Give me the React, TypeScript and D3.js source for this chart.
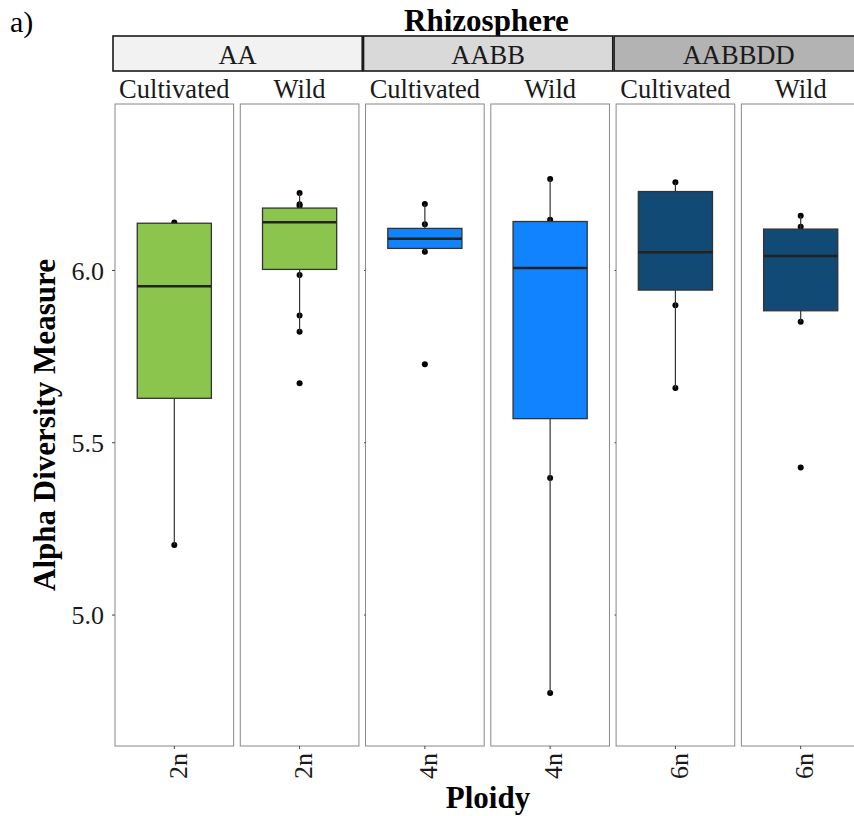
import React from "react";
import * as d3 from "d3";

const groups = ["AA", "AABB", "AABBDD"];
const groupFills = ["#f2f2f2", "#d9d9d9", "#b3b3b3"];
const panelGroups = ["AA", "AA", "AABB", "AABB", "AABBDD", "AABBDD"];
const panelTypes = ["Cultivated", "Wild", "Cultivated", "Wild", "Cultivated", "Wild"];
const ploidyLabels = ["2n", "2n", "4n", "4n", "6n", "6n"];
const boxColors = ["#8bc54e", "#8bc54e", "#1283ff", "#1283ff", "#124a76", "#124a76"];

const q1 = [5.629, 6.003, 6.064, 5.57, 5.943, 5.883];
const medians = [5.954, 6.14, 6.092, 6.007, 6.053, 6.042];
const q3 = [6.137, 6.181, 6.122, 6.142, 6.229, 6.12];
const whiskerLow = [5.203, 5.822, 6.054, 4.774, 5.659, 5.851];
const whiskerHigh = [6.139, 6.225, 6.193, 6.265, 6.256, 6.159];
const points: number[][] = [
  [6.139, 5.203],
  [6.225, 6.192, 6.187, 5.987, 5.869, 5.822, 5.673],
  [6.193, 6.134, 6.054, 5.728],
  [6.265, 6.147, 5.398, 4.774],
  [6.256, 5.899, 5.659],
  [6.159, 6.127, 5.851, 5.428],
];
const yTicks = [5.0, 5.5, 6.0];

const W = 854;
const H = 816;
const panelTop = 104;
const panelBottom = 746;

export default function App() {
  const idx = d3.range(6);
  const x = d3
    .scaleBand<number>()
    .domain(idx)
    .range([115, 860])
    .paddingInner(0.053)
    .paddingOuter(0);
  const bw = x.bandwidth();
  const y = d3.scaleLinear().domain([4.62, 6.483]).range([panelBottom, panelTop]);
  const serif = "'Liberation Serif', 'Times New Roman', serif";
  const boxW = bw * 0.625;

  const stripRanges = groups.map((g, gi) => {
    const l = x(gi * 2)!;
    const r = x(gi * 2 + 1)! + bw;
    return [l - 2, r + 3.3];
  });

  return (
    <svg
      width={W}
      height={H}
      style={{ position: "absolute", left: 0, top: 0, background: "#fff" }}
      fontFamily={serif}
    >
      <text x={10} y={32} fontSize={30} fill="#000">a)</text>
      <text x={486.5} y={30.5} fontSize={31} fontWeight="bold" textAnchor="middle" fill="#000">
        Rhizosphere
      </text>

      {groups.map((g, gi) => {
        const [l, r] = stripRanges[gi];
        return (
          <g key={g}>
            <rect x={l} y={36} width={r - l} height={35} fill={groupFills[gi]} stroke="#1a1a1a" strokeWidth={1.6} />
            <text x={(l + r) / 2} y={64} fontSize={26.5} textAnchor="middle" fill="#1a1a1a">
              {g}
            </text>
          </g>
        );
      })}

      {idx.map((i) => {
        const left = x(i)!;
        const cx = left + bw / 2;
        return (
          <g key={i}>
            <text x={cx} y={97.5} fontSize={26.5} textAnchor="middle" fill="#1a1a1a">
              {panelTypes[i]}
            </text>
            <rect x={left} y={panelTop} width={bw} height={panelBottom - panelTop} fill="#fff" stroke="#888" strokeWidth={1} />
            {points[i].map((p, k) => (
              <circle key={k} cx={cx} cy={y(p)} r={3} fill="#000" />
            ))}
            <line x1={cx} x2={cx} y1={y(whiskerHigh[i])} y2={y(q3[i])} stroke="#333" strokeWidth={1.2} />
            <line x1={cx} x2={cx} y1={y(q1[i])} y2={y(whiskerLow[i])} stroke="#333" strokeWidth={1.2} />
            <rect
              x={cx - boxW / 2}
              y={y(q3[i])}
              width={boxW}
              height={y(q1[i]) - y(q3[i])}
              fill={boxColors[i]}
              stroke="#333"
              strokeWidth={1.3}
            />
            <line x1={cx - boxW / 2} x2={cx + boxW / 2} y1={y(medians[i])} y2={y(medians[i])} stroke="#222" strokeWidth={2.6} />
            <line x1={cx} x2={cx} y1={panelBottom} y2={panelBottom + 3} stroke="#444" strokeWidth={1} />
            <text
              transform={`translate(${cx},${panelBottom + 7}) rotate(-90)`}
              dy="0.47em"
              fontSize={26}
              textAnchor="end"
              fill="#1a1a1a"
            >
              {ploidyLabels[i]}
            </text>
            {(i === 2 || i === 4) &&
              yTicks.map((t) => (
                <line key={t} x1={left - 1.5} x2={left} y1={y(t)} y2={y(t)} stroke="#444" strokeWidth={1} />
              ))}
          </g>
        );
      })}

      {yTicks.map((t) => (
        <g key={t}>
          <line x1={112} x2={115} y1={y(t)} y2={y(t)} stroke="#444" strokeWidth={1} />
          <text x={104} y={y(t)} dy="0.35em" fontSize={26} textAnchor="end" fill="#1a1a1a">
            {t.toFixed(1)}
          </text>
        </g>
      ))}

      <text
        transform={`translate(55,425) rotate(-90)`}
        fontSize={31}
        fontWeight="bold"
        textAnchor="middle"
        fill="#000"
      >
        Alpha Diversity Measure
      </text>
      <text x={488} y={808} fontSize={31} fontWeight="bold" textAnchor="middle" fill="#000">
        Ploidy
      </text>
    </svg>
  );
}
